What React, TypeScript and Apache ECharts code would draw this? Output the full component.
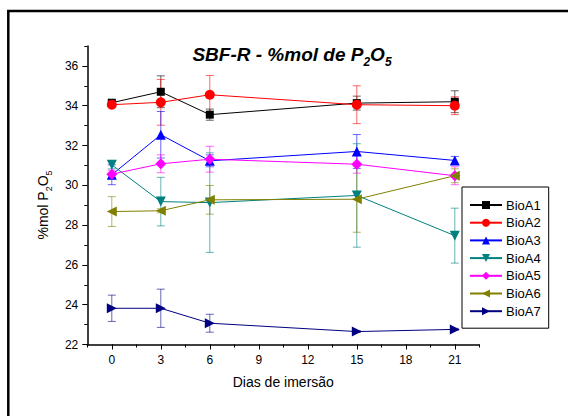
import React, { useEffect, useRef } from "react";
import * as echarts from "echarts";

const days = [0, 3, 6, 15, 21];
const seriesNames = ["BioA1", "BioA2", "BioA3", "BioA4", "BioA5", "BioA6", "BioA7"];
const bioA1 = [34.15, 34.7, 33.55, 34.13, 34.2];
const errA1 = [0.1, 0.8, 0.28, 0.35, 0.55];
const bioA2 = [34.05, 34.17, 34.55, 34.05, 34.0];
const errA2 = [0.08, 1.15, 0.97, 0.95, 0.45];
const bioA3 = [30.53, 32.54, 31.23, 31.7, 31.25];
const errA3 = [0.5, 1.17, 0.3, 0.85, 0.2];
const bioA4 = [31.03, 29.18, 29.13, 29.49, 27.47];
const errA4 = [0.2, 1.22, 2.5, 2.6, 1.38];
const bioA5 = [30.56, 31.08, 31.31, 31.06, 30.48];
const errA5 = [0.2, 0.45, 0.65, 0.45, 0.45];
const bioA6 = [28.68, 28.72, 29.27, 29.3, 30.48];
const errA6 = [0.75, 0.1, 0.72, 1.66, 0.35];
const bioA7 = [23.82, 23.82, 23.07, 22.65, 22.76];
const errA7 = [0.66, 0.96, 0.45, 0.05, 0.05];

const xMajorTicks = [0, 3, 6, 9, 12, 15, 18, 21];
const yMajorTicks = [22, 24, 26, 28, 30, 32, 34, 36];

const values = [bioA1, bioA2, bioA3, bioA4, bioA5, bioA6, bioA7];
const errors = [errA1, errA2, errA3, errA4, errA5, errA6, errA7];
const colors = ["#000000", "#FF0000", "#0000FF", "#008080", "#FF00FF", "#808000", "#000080"];
const symbols = ["rect", "circle", "triangle", "triangle", "diamond", "triangle", "triangle"];
const rotations = [0, 0, 0, 180, 0, 90, -90];
const sizes = [8, 10, 10, 10, 11, 10, 10];

const FONT = "Arial, 'Liberation Sans', sans-serif";

export default function App() {
  const ref = useRef<HTMLDivElement>(null);
  useEffect(() => {
    if (!ref.current) return;
    const chart = echarts.init(ref.current, undefined, { renderer: "svg" });

    const lineSeries: any[] = seriesNames.map((name, i) => ({
      name,
      type: "line",
      xAxisIndex: 0,
      yAxisIndex: 0,
      data: days.map((d, j) => [d, values[i][j]]),
      symbol: symbols[i],
      symbolSize: sizes[i],
      symbolRotate: rotations[i],
      itemStyle: { color: colors[i] },
      lineStyle: { color: colors[i], width: 1 },
      z: 3,
    }));

    const errSeries: any[] = seriesNames.map((name, i) => ({
      name: name + "_err",
      type: "custom",
      xAxisIndex: 0,
      yAxisIndex: 0,
      data: days.map((d, j) => [d, values[i][j], errors[i][j]]),
      z: 2,
      silent: true,
      renderItem: (params: any, api: any) => {
        const x = api.value(0);
        const y = api.value(1);
        const e = api.value(2);
        const top = api.coord([x, y + e]);
        const bot = api.coord([x, y - e]);
        const hw = 4;
        const style = { stroke: colors[i], lineWidth: 1, opacity: 0.6 };
        return {
          type: "group",
          children: [
            { type: "line", shape: { x1: top[0], y1: top[1], x2: bot[0], y2: bot[1] }, style },
            { type: "line", shape: { x1: top[0] - hw, y1: top[1], x2: top[0] + hw, y2: top[1] }, style },
            { type: "line", shape: { x1: bot[0] - hw, y1: bot[1], x2: bot[0] + hw, y2: bot[1] }, style },
          ],
        };
      },
    }));

    const axisLineStyle = { color: "#000", width: 1.5 };

    chart.setOption({
      animation: false,
      backgroundColor: "#fff",
      grid: { left: 87.3, top: 46, right: 88.7, bottom: 71.5, containLabel: false },
      xAxis: [
        {
          type: "value",
          min: -1.5,
          max: 22.5,
          interval: 1.5,
          position: "bottom",
          axisLine: { show: true, onZero: false, lineStyle: axisLineStyle },
          axisTick: { show: true, inside: false, length: 3, lineStyle: { color: "#000", width: 1 } },
          axisLabel: { show: false },
          splitLine: { show: false },
        },
        {
          type: "value",
          min: -1.5,
          max: 22.5,
          position: "bottom",
          axisLine: { show: false, onZero: false },
          axisTick: { show: true, inside: false, length: 5, customValues: xMajorTicks, lineStyle: { color: "#000", width: 1 } },
          axisLabel: { show: true, customValues: xMajorTicks, margin: 9, color: "#000", fontSize: 12, fontFamily: FONT },
          splitLine: { show: false },
        },
      ],
      yAxis: [
        {
          type: "value",
          min: 22,
          max: 37,
          interval: 1,
          position: "left",
          axisLine: { show: true, onZero: false, lineStyle: axisLineStyle },
          axisTick: { show: true, inside: false, length: 3, lineStyle: { color: "#000", width: 1 } },
          axisLabel: { show: false },
          splitLine: { show: false },
        },
        {
          type: "value",
          min: 22,
          max: 37,
          position: "left",
          axisLine: { show: false, onZero: false },
          axisTick: { show: true, inside: false, length: 5, customValues: yMajorTicks, lineStyle: { color: "#000", width: 1 } },
          axisLabel: { show: true, customValues: yMajorTicks, margin: 9, color: "#000", fontSize: 12, fontFamily: FONT },
          splitLine: { show: false },
        },
      ],
      legend: {
        show: true,
        data: seriesNames,
        orient: "vertical",
        left: 462,
        top: 187,
        width: 85,
        padding: [11.5, 8, 10.5, 7],
        itemWidth: 32,
        itemHeight: 10,
        itemGap: 4.7,
        borderColor: "#000",
        borderWidth: 1,
        backgroundColor: "#fff",
        textStyle: { color: "#000", fontSize: 13, fontFamily: FONT, padding: [0, 0, 0, -1] },
      },
      graphic: [
        {
          type: "rect",
          shape: { x: 8.3, y: 11, width: 700, height: 600 },
          style: { fill: "none", stroke: "#000", lineWidth: 2.5 },
          silent: true,
        },
        {
          type: "text",
          x: 292,
          y: 53,
          style: {
            text: "{a|SBF-R - %mol de P}{s|2}{a|O}{s|5}",
            align: "center",
            verticalAlign: "middle",
            rich: {
              a: { fontSize: 19, fontWeight: "bold", fontStyle: "italic", fontFamily: FONT, fill: "#000", lineHeight: 22, verticalAlign: "bottom" },
              s: { fontSize: 12, fontWeight: "bold", fontStyle: "italic", fontFamily: FONT, fill: "#000", lineHeight: 22, verticalAlign: "bottom", padding: [0, 0, -4, 0] },
            },
          },
        },
        {
          type: "text",
          x: 283.3,
          y: 381.7,
          style: { text: "Dias de imersão", align: "center", verticalAlign: "middle", fontSize: 14, fontFamily: FONT, fill: "#000" },
        },
        {
          type: "text",
          x: 41,
          y: 205,
          rotation: Math.PI / 2,
          style: {
            text: "{a|%mol P}{s|2}{a|O}{s|5}",
            align: "center",
            verticalAlign: "middle",
            rich: {
              a: { fontSize: 14, fontFamily: FONT, fill: "#000", lineHeight: 18, verticalAlign: "bottom" },
              s: { fontSize: 9, fontFamily: FONT, fill: "#000", lineHeight: 18, verticalAlign: "bottom", padding: [0, 0, -3, 0] },
            },
          },
        },
      ],
      series: [...errSeries, ...lineSeries],
    });

    return () => chart.dispose();
  }, []);

  return <div ref={ref} style={{ position: "fixed", left: 0, top: 0, width: 568, height: 416 }} />;
}
